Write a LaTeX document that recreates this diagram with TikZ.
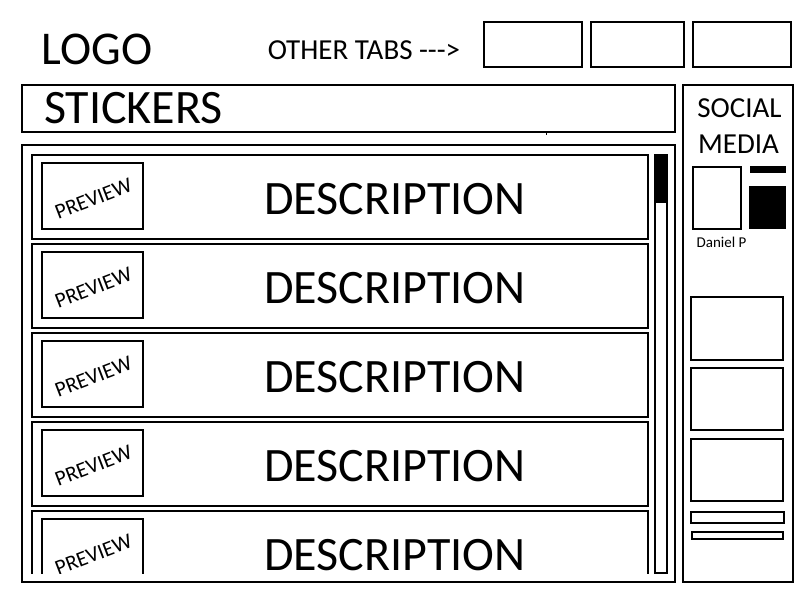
\documentclass[tikz,border=0pt]{standalone}
\usepackage{fontspec}
\setmainfont{Carlito}
\usetikzlibrary{positioning}

\newcommand{\fsz}[1]{\fontsize{#1}{#1}\selectfont}

\begin{document}
\begin{tikzpicture}[
            x = 1pt, y = -1pt, % one unit = one pixel
            line width = 2.5pt, % line style
            inner sep = 0pt
        ]

        \tikzstyle{box}=[
            draw,
            line width = 2.5pt,
            fill = none,
            inner sep = 0pt
        ]
        \tikzstyle{blk}=[
            fill = black,
            inner sep = 0pt
        ]
        \tikzstyle{prev}=[
            rotate = 21,
            font = \fsz{21.5}
        ]

        \useasboundingbox (0,0) rectangle (800,600);

	% header
        \node (logo) at (97,49) {\fsz{47}LOGO};
        \node (tabs) at (364,50) {\fsz{29}OTHER TABS {-}{-}{-}>};
        \node[box, minimum width=98, minimum height=45] (T1) at (533,44.5) {};
        \node[box, minimum width=93, minimum height=45] (T2) at (637.5,44.5) {};
        \node[box, minimum width=98, minimum height=45] (T3) at (742,44.5) {};

        % title bar
        \node[box, minimum width=653, minimum height=47] (ST) at (348.5,108.5) {};
        \node (sttext) at (133.5,108) {\fsz{48}STICKERS};
        \coordinate (tick) at (546,131);
        \draw[line width=1pt] (tick) -- ++(0,4);

         % list
         \node[box, minimum width=653, minimum height=437] (L) at (348.5,363.5) {};
         \node[box, minimum width=12, minimum height=418] (SB) at (661,364) {};
         \node[blk, minimum width=12, minimum height=48] (thumb) at (661,179) {};

         \begin{scope}
         \clip (25,150) rectangle (650,573);
         \node[box, minimum width=616, minimum height=84] (E1) at (340,197) {};
         \node[box, minimum width=101, minimum height=66] (P1) at (92.5,196) {};
         \node[prev] (p1) at (93.5,199) {PREVIEW};
         \node (D1) at (395,199) {\fsz{48}DESCRIPTION};

         \node[box, minimum width=616, minimum height=84] (E2) at (340,286) {};
         \node[box, minimum width=101, minimum height=66] (P2) at (92.5,285) {};
         \node[prev] (p2) at (93.5,288) {PREVIEW};
         \node (D2) at (395,288) {\fsz{48}DESCRIPTION};

         \node[box, minimum width=616, minimum height=84] (E3) at (340,375) {};
         \node[box, minimum width=101, minimum height=66] (P3) at (92.5,374) {};
         \node[prev] (p3) at (93.5,377) {PREVIEW};
         \node (D3) at (395,377) {\fsz{48}DESCRIPTION};

         \node[box, minimum width=616, minimum height=84] (E4) at (340,464) {};
         \node[box, minimum width=101, minimum height=66] (P4) at (92.5,463) {};
         \node[prev] (p4) at (93.5,466) {PREVIEW};
         \node (D4) at (395,466) {\fsz{48}DESCRIPTION};

         \node[box, minimum width=616, minimum height=84] (E5) at (340,553) {};
         \node[box, minimum width=101, minimum height=66] (P5) at (92.5,552) {};
         \node[prev] (p5) at (93.5,555) {PREVIEW};
         \node (D5) at (395,555) {\fsz{48}DESCRIPTION};
         \end{scope}

          % social media column
          \node[box, minimum width=110, minimum height=497] (SM) at (738,333.5) {};
          \node (social) at (739.5,108) {\fsz{29}SOCIAL};
          \node (media) at (738.5,144) {\fsz{29}MEDIA};
          \node[box, minimum width=48, minimum height=62] (avatar) at (717,198) {};
          \node[blk, minimum width=36, minimum height=7] (bar) at (768,169.5) {};
          \node[blk, minimum width=37, minimum height=43] (block) at (767.5,207.5) {};
          \node (name) at (721.5,242) {\fsz{15}Daniel P};

          \node[box, minimum width=92, minimum height=63] (S1) at (737,328.5) {};
          \node[box, minimum width=92, minimum height=62] (S2) at (737,399) {};
          \node[box, minimum width=92, minimum height=62] (S3) at (737,470) {};
          \node[box, minimum width=93, minimum height=11] (S4) at (737.5,517.5) {};
          \node[box, minimum width=91, minimum height=7] (S5) at (737.5,535.5) {};

  \end{tikzpicture}
\end{document}
